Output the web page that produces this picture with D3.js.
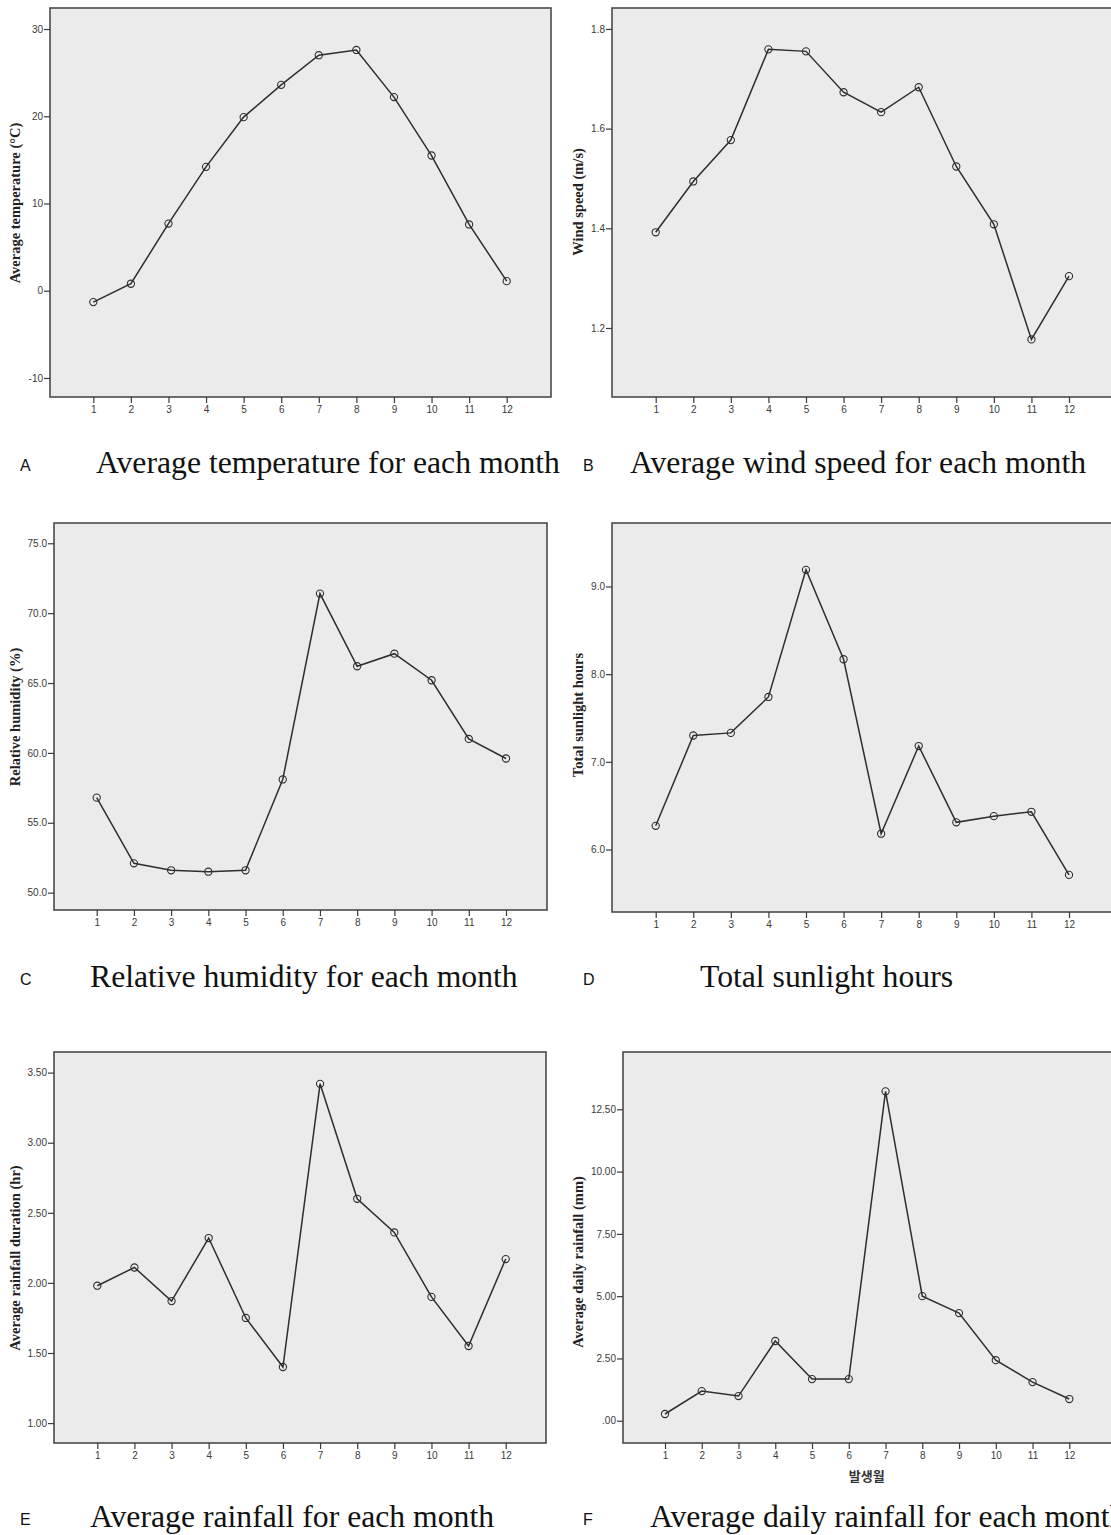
<!DOCTYPE html>
<html>
<head>
<meta charset="utf-8">
<script src="https://cdn.jsdelivr.net/npm/d3@7"></script>
<style>
  html, body { margin: 0; padding: 0; background: #fff; }
  svg { display: block; }
  .tick text { font-family: "Liberation Sans", Arial, sans-serif; font-size: 10px; fill: #3a3a3a; }
  .tick line { stroke: #3a3a3a; stroke-width: 1.2; }
</style>
</head>
<body>
<svg id="chart" width="1111" height="1535"></svg>
<script>
// Monthly climate summaries (month 1..12)
const months = [1, 2, 3, 4, 5, 6, 7, 8, 9, 10, 11, 12];
const temperature = [-1.3, 0.8, 7.7, 14.2, 19.9, 23.6, 27.0, 27.6, 22.2, 15.5, 7.6, 1.1];
const windSpeed = [1.392, 1.494, 1.577, 1.759, 1.755, 1.673, 1.633, 1.683, 1.524, 1.408, 1.177, 1.304];
const humidity = [56.8, 52.1, 51.6, 51.5, 51.6, 58.1, 71.4, 66.2, 67.1, 65.2, 61.0, 59.6];
const sunlight = [6.27, 7.30, 7.33, 7.74, 9.19, 8.17, 6.18, 7.18, 6.31, 6.38, 6.43, 5.71];
const rainDuration = [1.98, 2.11, 1.87, 2.32, 1.75, 1.40, 3.42, 2.60, 2.36, 1.90, 1.55, 2.17];
const dailyRain = [0.27, 1.19, 0.99, 3.20, 1.67, 1.67, 13.22, 5.00, 4.32, 2.43, 1.55, 0.87];

// Tick values per panel
const tempTicks = [-10, 0, 10, 20, 30];
const windTicks = [1.2, 1.4, 1.6, 1.8];
const humidityTicks = [50, 55, 60, 65, 70, 75];
const sunTicks = [6, 7, 8, 9];
const durationTicks = [1, 1.5, 2, 2.5, 3, 3.5];
const dailyTicks = [0, 2.5, 5, 7.5, 10, 12.5];

// Panel titles and axis labels
const letters = ["A", "B", "C", "D", "E", "F"];
const titles = [
  "Average temperature for each month",
  "Average wind speed for each month",
  "Relative humidity for each month",
  "Total sunlight hours",
  "Average rainfall for each month",
  "Average daily rainfall for each month"
];
const yLabels = [
  "Average temperature (\u00B0C)",
  "Wind speed (m/s)",
  "Relative humidity (%)",
  "Total sunlight hours",
  "Average rainfall duration (hr)",
  "Average daily rainfall (mm)"
];
const xLabelF = "발생월";

const f2 = d3.format(".2f");
const intFmt = v => String(v);  // plain hyphen for negatives
const panels = [
  { values: temperature, ticks: tempTicks, fmt: intFmt, domain: [-12.18, 32.41],
    box: [50, 551, 8, 397], xr: [93.3, 506.7], lab: [15, 203], title: [96, 473], letter: 20 },
  { values: windSpeed, ticks: windTicks, fmt: d3.format(".1f"), domain: [1.0615, 1.842],
    box: [612, 1113, 8, 397], xr: [655.7, 1069], lab: [578, 202], title: [630, 473], letter: 583 },
  { values: humidity, ticks: humidityTicks, fmt: d3.format(".1f"), domain: [48.76, 76.45],
    box: [54, 547, 523, 910], xr: [96.7, 506], lab: [15, 717], title: [90, 987], letter: 20 },
  { values: sunlight, ticks: sunTicks, fmt: d3.format(".1f"), domain: [5.287, 9.724],
    box: [612, 1113, 523, 912], xr: [655.7, 1069], lab: [578, 715], title: [700, 987], letter: 583 },
  { values: rainDuration, ticks: durationTicks, fmt: f2, domain: [0.858, 3.647],
    box: [54, 546, 1052, 1443], xr: [97.3, 505.7], lab: [15, 1258], title: [90, 1527], letter: 20 },
  { values: dailyRain, ticks: dailyTicks, fmt: v => f2(v).replace(/^0\./, "."), domain: [-0.894, 14.80],
    box: [623, 1113, 1052, 1443], xr: [665, 1069.3], lab: [578, 1262], title: [650, 1527], letter: 583 }
];

const svg = d3.select("#chart");

panels.forEach((p, i) => {
  const [x0, x1, y0, y1] = p.box;
  const x = d3.scaleLinear().domain([1, 12]).range(p.xr);
  const y = d3.scaleLinear().domain(p.domain).range([y1, y0]);
  const g = svg.append("g");

  // plot area
  g.append("rect")
    .attr("x", x0).attr("y", y0)
    .attr("width", x1 - x0).attr("height", y1 - y0)
    .attr("fill", "#ebebeb")
    .attr("stroke", "#4a4a4a").attr("stroke-width", 1.6);

  // y axis
  const ya = g.append("g").attr("transform", `translate(${x0},0)`)
    .call(d3.axisLeft(y).tickValues(p.ticks).tickFormat(p.fmt).tickSize(6).tickPadding(1));
  ya.select(".domain").remove();

  // x axis
  const xa = g.append("g").attr("transform", `translate(0,${y1})`)
    .call(d3.axisBottom(x).tickValues(months).tickFormat(d3.format("d")).tickSize(6).tickPadding(3));
  xa.select(".domain").remove();

  // y axis title
  g.append("text")
    .attr("transform", `translate(${p.lab[0]},${p.lab[1]}) rotate(-90)`)
    .attr("text-anchor", "middle").attr("dominant-baseline", "central")
    .attr("font-family", "'Liberation Serif', 'Times New Roman', serif")
    .attr("font-weight", "bold").attr("font-size", 14.5).attr("fill", "#222")
    .text(yLabels[i]);

  // series line and markers
  const pts = months.map((m, k) => [m, p.values[k]]);
  g.append("path")
    .datum(pts)
    .attr("fill", "none").attr("stroke", "#2e2e2e").attr("stroke-width", 1.5)
    .attr("d", d3.line().x(d => x(d[0])).y(d => y(d[1])));
  g.selectAll("circle.pt").data(pts).join("circle")
    .attr("class", "pt")
    .attr("cx", d => x(d[0])).attr("cy", d => y(d[1])).attr("r", 3.6)
    .attr("fill", "none").attr("stroke", "#2e2e2e").attr("stroke-width", 1.1);

  // panel letter and caption
  g.append("text")
    .attr("x", p.letter).attr("y", p.title[1] - 2)
    .attr("font-family", "'Liberation Sans', Arial, sans-serif").attr("font-size", 16).attr("fill", "#111")
    .text(letters[i]);
  g.append("text")
    .attr("x", p.title[0]).attr("y", p.title[1])
    .attr("font-family", "'Liberation Serif', 'Times New Roman', serif").attr("font-size", 31.7).attr("fill", "#111")
    .text(titles[i]);
});

// month axis title on the last panel
svg.append("text")
  .attr("x", 866.7).attr("y", 1481)
  .attr("text-anchor", "middle")
  .attr("font-family", "'Noto Sans CJK KR', sans-serif").attr("font-weight", "bold")
  .attr("font-size", 13).attr("fill", "#333")
  .text(xLabelF);
</script>
</body>
</html>
